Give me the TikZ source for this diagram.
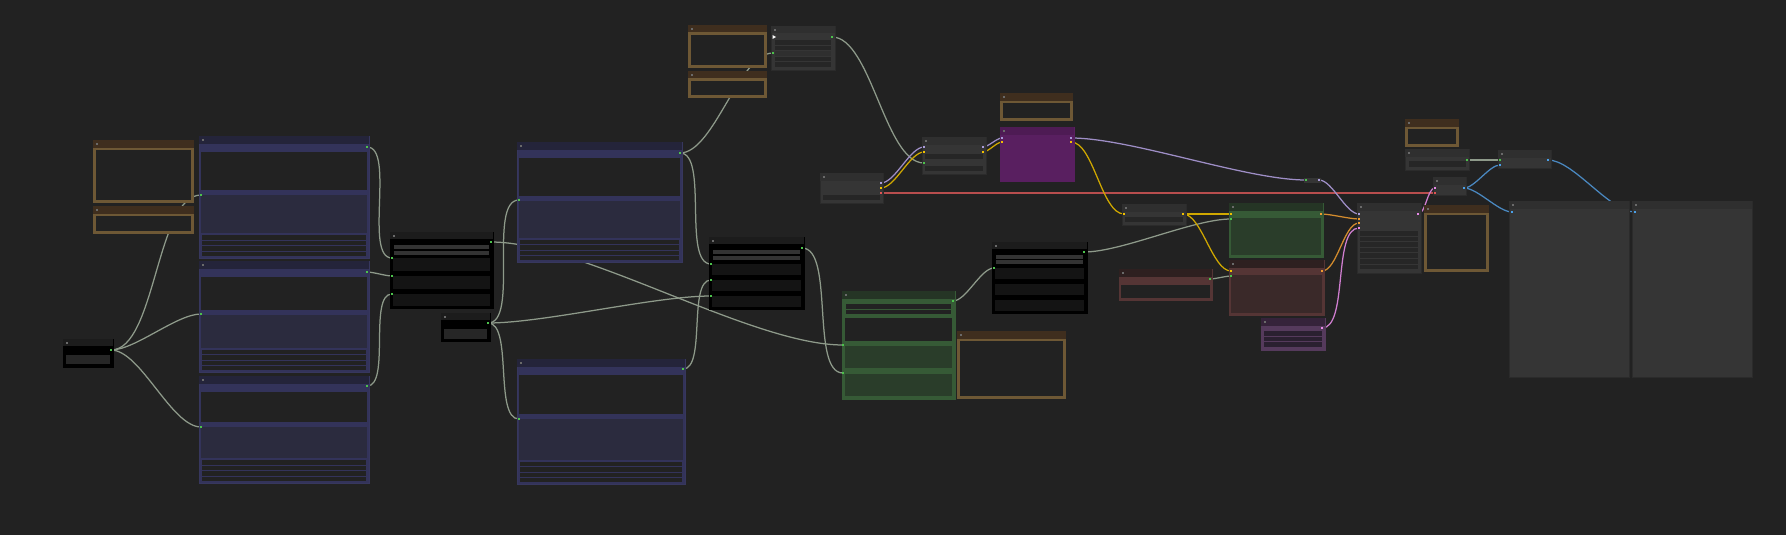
\documentclass[tikz,border=0pt]{standalone}
\definecolor{bg}{HTML}{222222}
\definecolor{tdotc}{HTML}{6A6A6A}
\definecolor{gtitle}{HTML}{2F2F2F}
\definecolor{gbody}{HTML}{353535}
\definecolor{gborder}{HTML}{2B2B2B}
\definecolor{gwid}{HTML}{262626}
\definecolor{btitle}{HTML}{3F2E1E}
\definecolor{bborder}{HTML}{6E5835}
\definecolor{ntitle}{HTML}{24243A}
\definecolor{nband}{HTML}{33335A}
\definecolor{nlight}{HTML}{2B2B3E}
\definecolor{nborder}{HTML}{37375E}
\definecolor{ktitle}{HTML}{1C1C1C}
\definecolor{kwid}{HTML}{333333}
\definecolor{kbox}{HTML}{141414}
\definecolor{grtitle}{HTML}{253525}
\definecolor{grband}{HTML}{365A36}
\definecolor{grbody}{HTML}{2A3D2A}
\definecolor{rtitle}{HTML}{2E2020}
\definecolor{rband}{HTML}{553535}
\definecolor{rbody}{HTML}{3A2929}
\definecolor{ptitle}{HTML}{35233A}
\definecolor{pbody}{HTML}{553A5C}
\definecolor{prow}{HTML}{2A2030}
\definecolor{mtitle}{HTML}{4E1B54}
\definecolor{mbody}{HTML}{591F60}
\definecolor{lgrey}{HTML}{8E9A8A}
\definecolor{lpurple}{HTML}{9E8EC6}
\definecolor{lyellow}{HTML}{D0A800}
\definecolor{lred}{HTML}{B84E4E}
\definecolor{lorange}{HTML}{D48C2E}
\definecolor{lpink}{HTML}{D07ED0}
\definecolor{lblue}{HTML}{4A88C0}
\definecolor{pgreen}{HTML}{4CC24C}
\definecolor{ppurple}{HTML}{A99BDA}
\definecolor{pyellow}{HTML}{F0C000}
\definecolor{pred}{HTML}{E05555}
\definecolor{porange}{HTML}{F09A30}
\definecolor{ppink}{HTML}{E88AE8}
\definecolor{pblue}{HTML}{4AA0E8}
\tikzset{
  base/.style={anchor=north west, inner sep=0pt, outer sep=0pt, line width=0.8pt},
  lk/.style={out=0, in=180, looseness=0.64},
  link/.style={line width=1.25pt},
}
\newcommand\ttdot[2]{\fill[tdotc] (#1+3,#2+3) rectangle (#1+5,#2+5);}
\newcommand\notenode[5]{%
  \node[base, fill=bg, minimum width={(#4-#2)*1pt}, minimum height={(#5-#3)*1pt}] (#1) at (#2,#3) {};
  \fill[btitle] (#2,#3) rectangle (#4,#3+7.5);
  \draw[bborder, line width=2.7pt] (#2+1.35,#3+8.85) rectangle (#4-1.35,#5-1.35);
  \ttdot{#2}{#3}}
\newcommand\grnode[5]{%
  \node[base, fill=gbody, draw=gborder, minimum width={(#4-#2)*1pt}, minimum height={(#5-#3)*1pt}] (#1) at (#2,#3) {};
  \fill[gtitle] (#2,#3) rectangle (#4,#3+7.5);
  \ttdot{#2}{#3}}
\newcommand\blknode[5]{%
  \node[base, fill=black, draw=black, minimum width={(#4-#2)*1pt}, minimum height={(#5-#3)*1pt}] (#1) at (#2,#3) {};
  \fill[ktitle] (#2,#3) rectangle (#4,#3+7);
  \ttdot{#2}{#3}}
\newcommand\colnode[7]{%
  \node[base, fill=#6, draw=#6, minimum width={(#4-#2)*1pt}, minimum height={(#5-#3)*1pt}] (#1) at (#2,#3) {};
  \fill[#7] (#2,#3) rectangle (#4,#3+7.5);
  \ttdot{#2}{#3}}
\newcommand\bluenode[7]{%
  \node[base, fill=nband, draw=nborder, minimum width={(#4-#2)*1pt}, minimum height={(#5-#3)*1pt}] (#1) at (#2,#3) {};
  \fill[ntitle] (#2,#3) rectangle (#4,#3+8);
  \fill[bg] (#2+2,#3+16) rectangle (#4-2,#6);
  \fill[nlight] (#2+2,#6+5) rectangle (#4-2,#7);
  \foreach \k in {0,1,2,3} {\fill[bg] (#2+3,{#7+2+\k*(#5-#7-3)/4}) rectangle (#4-3,{#7+1+(\k+1)*(#5-#7-3)/4});}
  \ttdot{#2}{#3}}
\newcommand\prt[2]{\fill[#2] (#1) ++(-1.4pt,-1.4pt) rectangle ++(2.8pt,2.8pt);}
\begin{document}
\begin{tikzpicture}[x=1pt,y=-1pt]
\fill[bg] (0,0) rectangle (1786,535);
\useasboundingbox (0,0) rectangle (1786,535);
% ---------- ports ----------
\coordinate (Dout) at (111,350);
\coordinate (C1in) at (201,195); \coordinate (C1out) at (367,147);
\coordinate (C2in) at (201,314); \coordinate (C2out) at (367,272);
\coordinate (C3in) at (201,427); \coordinate (C3out) at (367,386);
\coordinate (Ein1) at (392,258); \coordinate (Ein2) at (392,276); \coordinate (Ein3) at (392,294); \coordinate (Eout) at (491,242);
\coordinate (Fout) at (488,323);
\coordinate (Gin) at (519,200); \coordinate (Gout) at (680,153);
\coordinate (Hin) at (519,419); \coordinate (Hout) at (683,369);
\coordinate (Iin1) at (711,264); \coordinate (Iin2) at (711,280); \coordinate (Iin3) at (711,296); \coordinate (Iout) at (802,248);
\coordinate (Jina) at (843,345); \coordinate (Jinb) at (843,373); \coordinate (Jout) at (953,301);
\coordinate (Min) at (994,268); \coordinate (Mout) at (1084,252);
\coordinate (Lin0) at (774,37); \coordinate (Lin) at (773,53); \coordinate (Lout) at (832,37);
\coordinate (Zp) at (881,183); \coordinate (Zy) at (881,188); \coordinate (Zr) at (881,193);
\coordinate (ABip) at (924,147); \coordinate (ABiy) at (924,152); \coordinate (ABig) at (924,163);
\coordinate (ABop) at (983,147); \coordinate (ABoy) at (983,152);
\coordinate (ADip) at (1002,138); \coordinate (ADiy) at (1002,142); \coordinate (ADop) at (1071,138); \coordinate (ADoy) at (1071,142);
\coordinate (Oin) at (1124,214); \coordinate (Oout) at (1183,214);
\coordinate (Pout) at (1210,279);
\coordinate (Qiy) at (1231,214); \coordinate (Qig) at (1231,219); \coordinate (Qout) at (1321,214);
\coordinate (Riy) at (1231,271); \coordinate (Rig) at (1231,276); \coordinate (Rout) at (1322,271);
\coordinate (Sout) at (1322,328);
\coordinate (Uin) at (1306,180); \coordinate (Uout) at (1319,180);
\coordinate (Ti1) at (1359,214); \coordinate (Ti2) at (1359,219); \coordinate (Ti3) at (1359,223); \coordinate (Ti4) at (1359,228); \coordinate (Tout) at (1418,214);
\coordinate (Wout) at (1467,160);
\coordinate (Xip) at (1435,188); \coordinate (Xir) at (1435,193); \coordinate (Xout) at (1464,188);
\coordinate (AAig) at (1500,160); \coordinate (AAib) at (1500,165); \coordinate (AAout) at (1548,160);
\coordinate (BBin) at (1512,212);
\coordinate (CCin) at (1635,212);
% ---------- links ----------
\draw[link, lgrey] (Dout) to[lk] (C1in);
\draw[link, lgrey] (Dout) to[lk] (C2in);
\draw[link, lgrey] (Dout) to[lk] (C3in);
\draw[link, lgrey] (C1out) to[lk] (Ein1);
\draw[link, lgrey] (C2out) to[lk] (Ein2);
\draw[link, lgrey] (C3out) to[lk] (Ein3);
\draw[link, lgrey] (Eout) to[lk] (Jina);
\draw[link, lgrey] (Fout) to[lk] (Gin);
\draw[link, lgrey] (Fout) to[lk] (Hin);
\draw[link, lgrey] (Fout) to[lk] (Iin3);
\draw[link, lgrey] (Gout) to[lk] (Lin);
\draw[link, lgrey] (Gout) to[lk] (Iin1);
\draw[link, lgrey] (Hout) to[lk] (Iin2);
\draw[link, lgrey] (Iout) to[lk] (Jinb);
\draw[link, lgrey] (Jout) to[lk] (Min);
\draw[link, lgrey] (Mout) to[lk] (Qig);
\draw[link, lgrey] (Lout) to[lk] (ABig);
\draw[link, lpurple] (Zp) to[lk] (ABip);
\draw[link, lyellow] (Zy) to[lk] (ABiy);
\draw[link, lred] (Zr) to[lk] (Xir);
\draw[link, lpurple] (ABop) to[lk] (ADip);
\draw[link, lyellow] (ABoy) to[lk] (ADiy);
\draw[link, lpurple] (ADop) to[lk] (Uin);
\draw[link, lyellow] (ADoy) to[lk] (Oin);
\draw[link, lyellow] (Oout) to[lk] (Qiy);
\draw[link, lyellow] (Oout) to[lk] (Riy);
\draw[link, lgrey] (Pout) to[lk] (Rig);
\draw[link, lpurple] (Uout) to[lk] (Ti1);
\draw[link, lorange] (Qout) to[lk] (Ti2);
\draw[link, lorange] (Rout) to[lk] (Ti3);
\draw[link, lpink] (Sout) to[lk] (Ti4);
\draw[link, lpink] (Tout) to[lk] (Xip);
\draw[link, lgrey] (Wout) to[lk] (AAig);
\draw[link, lblue] (Xout) to[lk] (AAib);
\draw[link, lblue] (Xout) to[lk] (BBin);
\draw[link, lblue] (AAout) to[lk] (CCin);
% ---------- notes (brown) ----------
\notenode{A}{93}{140}{194}{203}
\notenode{B}{93}{206}{194}{234}
\notenode{K1}{688}{25}{767}{68}
\notenode{K2}{688}{71}{767}{98}
\notenode{AC}{1000}{93}{1073}{121}
\notenode{N}{957}{331}{1066}{399}
\notenode{V}{1405}{119}{1459}{147}
\notenode{Y}{1424}{205}{1489}{272}
% ---------- blue nodes ----------
\bluenode{C1}{199}{136}{369}{258}{190}{233}
\bluenode{C2}{199}{261}{369}{372}{310}{348}
\bluenode{C3}{199}{376}{369}{483}{422}{458}
\bluenode{G}{517}{142}{682}{262}{196}{238}
\bluenode{H}{517}{359}{685}{484}{414}{460}
% ---------- black nodes ----------
\blknode{D}{63}{339}{113}{367}
\fill[gwid] (66,355) rectangle (110,364);
\blknode{F}{441}{313}{490}{341}
\fill[gwid] (444,329) rectangle (487,339);
\blknode{E}{390}{232}{493}{308}
\fill[kwid] (394,245) rectangle (489,249);
\fill[kwid] (394,251) rectangle (489,255);
\fill[kbox] (393,258) rectangle (490,271);
\fill[kbox] (393,276) rectangle (490,289);
\fill[kbox] (393,294) rectangle (490,306);
\blknode{I}{709}{237}{804}{309}
\fill[kwid] (713,250) rectangle (800,254);
\fill[kwid] (713,256) rectangle (800,260);
\fill[kbox] (712,264) rectangle (801,275);
\fill[kbox] (712,280) rectangle (801,291);
\fill[kbox] (712,296) rectangle (801,307);
\blknode{M}{992}{242}{1087}{313}
\fill[kwid] (996,255) rectangle (1083,259);
\fill[kwid] (996,260) rectangle (1083,264);
\fill[kbox] (995,268) rectangle (1084,279);
\fill[kbox] (995,284) rectangle (1084,295);
\fill[kbox] (995,300) rectangle (1084,311);
% ---------- grey nodes ----------
\grnode{L}{771}{26}{835}{70}
\foreach \a/\b in {40/45,46/50,57/61,62/67} {\fill[gwid] (775,\a) rectangle (831,\b);}
\fill[gtitle] (775,51) rectangle (831,56);
\grnode{Z}{820}{173}{883}{203}
\fill[gwid] (823,195) rectangle (880,200);
\grnode{AB}{922}{137}{986}{174}
\fill[gwid] (925,154) rectangle (983,159);
\fill[gwid] (925,166) rectangle (983,171);
\grnode{O}{1122}{204}{1186}{225}
\fill[gwid] (1125,217) rectangle (1183,222);
\grnode{T}{1357}{203}{1421}{273}
\foreach \k in {0,...,6} {\fill[gwid] (1360,{231+\k*5.6}) rectangle (1418,{235.6+\k*5.6});}
\grnode{W}{1405}{149}{1469}{170}
\fill[gwid] (1409,161) rectangle (1466,167);
\grnode{X}{1433}{177}{1466}{195}
\grnode{AA}{1498}{150}{1551}{168}
\grnode{BB}{1509}{201}{1629}{377}
\grnode{CC}{1632}{201}{1752}{377}
\node[base, fill=gbody, minimum width=17pt, minimum height=5pt] (U) at (1304,178) {};
% ---------- coloured nodes ----------
\colnode{J}{842}{291}{955}{399}{grband}{grtitle}
\fill[bg] (846,304) rectangle (951,309);
\fill[bg] (846,310) rectangle (951,314);
\fill[bg] (845,318) rectangle (952,341);
\fill[grbody] (845,346) rectangle (952,368);
\fill[grbody] (845,374) rectangle (952,396);
\colnode{Q}{1229}{203}{1323}{257}{grband}{grtitle}
\fill[grbody] (1231,218) rectangle (1321,255);
\colnode{R}{1229}{260}{1324}{315}{rband}{rtitle}
\fill[rbody] (1231,275) rectangle (1322,313);
\colnode{P}{1119}{269}{1212}{300}{rband}{rtitle}
\fill[bg] (1121,285) rectangle (1210,298);
\colnode{S}{1261}{318}{1325}{350}{pbody}{ptitle}
\fill[prow] (1264,331) rectangle (1322,336);
\fill[prow] (1264,337) rectangle (1322,341);
\fill[prow] (1264,342) rectangle (1322,347);
\colnode{AD}{1000}{127}{1074}{181}{mbody}{mtitle}
% ---------- port dots ----------
\foreach \p in {Dout,C1in,C1out,C2in,C2out,C3in,C3out,Ein1,Ein2,Ein3,Eout,Fout,Gin,Gout,Hin,Hout,Iin1,Iin2,Iin3,Iout,Jina,Jinb,Jout,Min,Mout,Lin,Lout,ABig,Qig,Rig,Pout,Wout,AAig} {\prt{\p}{pgreen}}
\foreach \p in {Zp,ABip,ABop,ADip,ADop,Uout,Ti1} {\prt{\p}{ppurple}}
\foreach \p in {Zy,ABiy,ABoy,ADiy,ADoy,Oin,Oout,Qiy,Riy} {\prt{\p}{pyellow}}
\foreach \p in {Qout,Rout,Ti2,Ti3} {\prt{\p}{porange}}
\foreach \p in {Sout,Ti4,Tout,Xip} {\prt{\p}{ppink}}
\foreach \p in {Zr,Xir} {\prt{\p}{pred}}
\foreach \p in {Xout,AAib,AAout,BBin,CCin} {\prt{\p}{pblue}}
\prt{Uin}{pgreen}
\fill[white] (Lin0) ++(-1.5pt,2pt) -- ++(3.5pt,-2pt) -- ++(-3.5pt,-2pt) -- cycle;
\end{tikzpicture}
\end{document}
